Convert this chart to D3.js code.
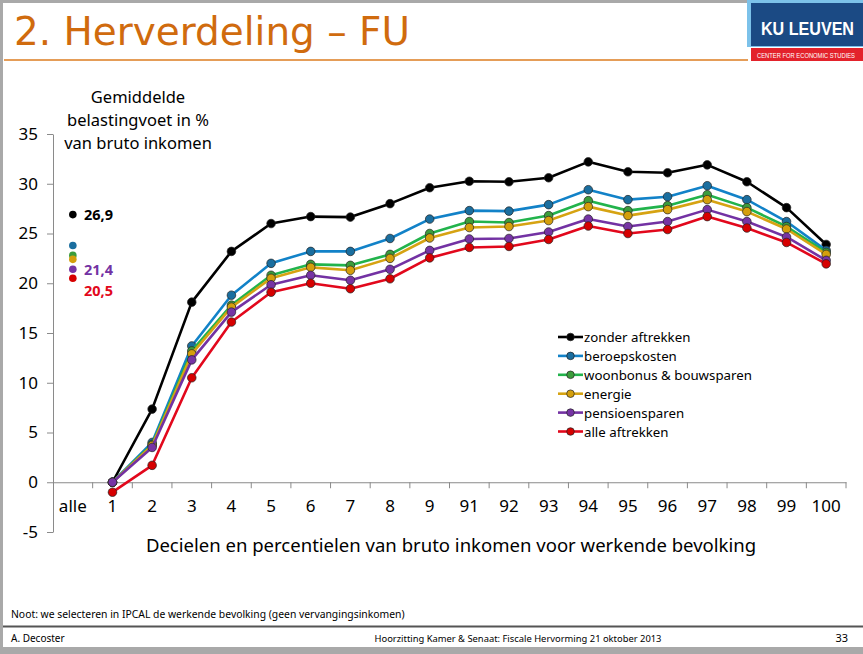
<!DOCTYPE html>
<html>
<head>
<meta charset="utf-8">
<script src="https://cdn.jsdelivr.net/npm/d3@7"></script>
<style>
  html, body { margin: 0; padding: 0; background: #fff; }
  svg { display: block; }
</style>
</head>
<body>
<div id="chart"></div>
<script>
// categorieën op de x-as
const categories = ["alle", "1", "2", "3", "4", "5", "6", "7", "8", "9",
  "91", "92", "93", "94", "95", "96", "97", "98", "99", "100"];
const deciles = categories.slice(1);

const seriesNames = ["zonder aftrekken", "beroepskosten", "woonbonus & bouwsparen",
  "energie", "pensioensparen", "alle aftrekken"];

// gemiddelde belastingvoet per deciel / percentiel
const zonderAftrekken = [0, 7.35, 18.1, 23.2, 26.0, 26.7, 26.65, 28.0, 29.6, 30.25, 30.2, 30.6, 32.2, 31.2, 31.1, 31.9, 30.2, 27.6, 23.9];
const beroepskosten = [0, 4.0, 13.7, 18.8, 22.0, 23.2, 23.2, 24.5, 26.45, 27.3, 27.25, 27.9, 29.4, 28.4, 28.7, 29.8, 28.4, 26.2, 23.3];
const woonbonus = [0, 3.8, 13.2, 17.8, 20.8, 21.9, 21.8, 22.9, 25.0, 26.2, 26.1, 26.8, 28.3, 27.3, 27.8, 28.9, 27.6, 25.7, 23.1];
const energie = [0, 3.7, 12.9, 17.6, 20.5, 21.6, 21.3, 22.5, 24.55, 25.6, 25.7, 26.3, 27.7, 26.8, 27.4, 28.4, 27.2, 25.45, 22.9];
const pensioensparen = [0, 3.5, 12.3, 17.1, 19.85, 20.8, 20.3, 21.4, 23.3, 24.45, 24.5, 25.15, 26.45, 25.7, 26.2, 27.4, 26.2, 24.65, 22.3];
const alleAftrekken = [-1.0, 1.7, 10.5, 16.1, 19.1, 20.0, 19.45, 20.45, 22.55, 23.6, 23.7, 24.4, 25.75, 25.0, 25.4, 26.7, 25.55, 24.1, 21.95];

// waarde voor de hele bevolking ("alle")
const alleValues = [26.9, 23.8, 22.8, 22.4, 21.4, 20.5];
// welke "alle"-waarden een label krijgen
const alleLabels = [
  { idx: 0, text: "26,9" },
  { idx: 4, text: "21,4" },
  { idx: 5, text: "20,5" }
];

const yTicks = [-5, 0, 5, 10, 15, 20, 25, 30, 35];

const lineColors = ["#000000", "#1282c8", "#22b34c", "#d6a312", "#7332a3", "#e2081c"];
const dotColors = ["#000000", "#1a6e9f", "#3c9c3c", "#d49f0c", "#7634a4", "#d60000"];

const seriesValues = [zonderAftrekken, beroepskosten, woonbonus, energie, pensioensparen, alleAftrekken];

const W = 863, H = 654;
const FONT = "'Noto Sans', 'Open Sans', sans-serif";

const svg = d3.select("#chart").append("svg")
  .attr("width", W)
  .attr("height", H);

// dia-achtergrond met grijze rand
svg.append("rect").attr("width", W).attr("height", H).attr("fill", "#a9a9a9");
svg.append("rect").attr("x", 3).attr("y", 3).attr("width", W - 3).attr("height", 644).attr("fill", "#fff");

// titel
const title = svg.append("text")
  .attr("x", 14).attr("y", 45)
  .attr("font-family", "'DejaVu Sans', Tahoma, sans-serif")
  .attr("font-size", 38)
  .attr("fill", "#d06b0e")
  .text("2. Herverdeling \u2013 FU");
fitWidth(title, 396);

svg.append("line")
  .attr("x1", 4).attr("x2", 748).attr("y1", 60).attr("y2", 60)
  .attr("stroke", "#dc7d20").attr("stroke-width", 1.5);

// logo
const logo = svg.append("g");
logo.append("rect").attr("x", 747).attr("y", 0).attr("width", 116).attr("height", 47).attr("fill", "#7cc2ea");
logo.append("rect").attr("x", 751).attr("y", 3).attr("width", 112).attr("height", 43).attr("fill", "#1b4a84");
logo.append("rect").attr("x", 751).attr("y", 48).attr("width", 112).attr("height", 13).attr("fill", "#e3222b");
logo.append("text")
  .attr("transform", "translate(761,35) scale(1,1.15)")
  .attr("font-family", "'Liberation Sans', Arial, sans-serif")
  .attr("font-weight", "bold").attr("font-size", 16)
  .attr("textLength", 93).attr("lengthAdjust", "spacingAndGlyphs")
  .attr("fill", "#fff").text("KU LEUVEN");
logo.append("text")
  .attr("x", 757).attr("y", 57.5)
  .attr("font-family", "'Liberation Sans', Arial, sans-serif")
  .attr("font-size", 6.3)
  .attr("textLength", 98).attr("lengthAdjust", "spacingAndGlyphs")
  .attr("fill", "#fff").text("CENTER FOR ECONOMIC STUDIES");

// schalen
const x = d3.scaleBand().domain(categories).range([53, 846]);
const y = d3.scaleLinear().domain([-5, 35]).range([532, 134]);
const cx = d => x(d) + x.bandwidth() / 2;

// y-as
const yAxis = svg.append("g")
  .attr("transform", "translate(53,0)")
  .call(d3.axisLeft(y).tickValues(yTicks).tickFormat(d => String(d))
    .tickSize(6).tickPadding(9).tickSizeOuter(0));
yAxis.select(".domain").attr("stroke", "#8a8a8a");
yAxis.selectAll(".tick line").attr("stroke", "#8a8a8a");
yAxis.selectAll("text")
  .attr("font-family", FONT).attr("font-size", 17).attr("fill", "#000");

// x-as op de nullijn
const xAxis = svg.append("g")
  .attr("transform", `translate(0,${y(0)})`)
  .call(d3.axisBottom(x).tickSize(0).tickPadding(18).tickSizeOuter(0));
xAxis.select(".domain").attr("stroke", "#8a8a8a");
xAxis.selectAll("text")
  .attr("font-family", FONT).attr("font-size", 17).attr("fill", "#000");
xAxis.selectAll(".tick-mark")
  .data(categories.slice(1).concat(["end"]))
  .enter().append("line")
  .attr("x1", d => d === "end" ? x.range()[1] : x(d))
  .attr("x2", d => d === "end" ? x.range()[1] : x(d))
  .attr("y1", 0).attr("y2", 6)
  .attr("stroke", "#8a8a8a");

// y-as titel
const yTitle = svg.append("text")
  .attr("font-family", FONT).attr("font-size", 16.5)
  .attr("text-anchor", "middle").attr("fill", "#000");
["Gemiddelde", "belastingvoet in %", "van bruto inkomen"].forEach((t, i) => {
  yTitle.append("tspan").attr("x", 138).attr("y", 103 + i * 23).text(t);
});

// x-as titel
const xTitle = svg.append("text")
  .attr("x", 451).attr("y", 552)
  .attr("text-anchor", "middle")
  .attr("font-family", FONT).attr("font-size", 18.5)
  .attr("fill", "#000")
  .text("Decielen en percentielen van bruto inkomen voor werkende bevolking");
fitWidth(xTitle, 611);

// lijnen + markers
const line = d3.line()
  .x((d, i) => cx(deciles[i]))
  .y(d => y(d));

seriesValues.forEach((vals, s) => {
  const g = svg.append("g");
  g.append("path")
    .datum(vals)
    .attr("d", line)
    .attr("fill", "none")
    .attr("stroke", lineColors[s])
    .attr("stroke-width", 2.6)
    .attr("stroke-linejoin", "round");
  g.selectAll("circle")
    .data(vals)
    .enter().append("circle")
    .attr("cx", (d, i) => cx(deciles[i]))
    .attr("cy", d => y(d))
    .attr("r", 4.3)
    .attr("fill", dotColors[s])
    .attr("stroke", "#222")
    .attr("stroke-width", 0.7);
});

// punten voor "alle"
svg.append("g").selectAll("circle")
  .data(alleValues)
  .enter().append("circle")
  .attr("cx", cx("alle"))
  .attr("cy", d => y(d))
  .attr("r", 3.8)
  .attr("fill", (d, i) => dotColors[i]);

svg.append("g").selectAll("text")
  .data(alleLabels)
  .enter().append("text")
  .attr("x", 84)
  .attr("y", (d, i) => i === 2 ? y(alleValues[d.idx]) + 18 : y(alleValues[d.idx]) + 5.5)
  .attr("font-family", FONT).attr("font-size", 14.5).attr("font-weight", "bold")
  .attr("fill", d => d.idx === 0 ? "#000" : lineColors[d.idx])
  .text(d => d.text);

// legenda
const legend = svg.append("g").attr("transform", "translate(558,337)");
const legItems = legend.selectAll("g")
  .data(seriesNames)
  .enter().append("g")
  .attr("transform", (d, i) => `translate(0,${i * 18.9})`);
legItems.append("line")
  .attr("x1", 0).attr("x2", 25).attr("y1", 0).attr("y2", 0)
  .attr("stroke", (d, i) => lineColors[i]).attr("stroke-width", 2.6);
legItems.append("circle")
  .attr("cx", 12.5).attr("cy", 0).attr("r", 3.8)
  .attr("fill", (d, i) => dotColors[i])
  .attr("stroke", "#222").attr("stroke-width", 0.7);
legItems.append("text")
  .attr("x", 26).attr("y", 5)
  .attr("font-family", FONT).attr("font-size", 14)
  .attr("fill", "#000")
  .text(d => d);
fitWidth(legItems.filter((d, i) => i === 2).select("text"), 168);
legItems.selectAll("text").attr("font-size", legItems.filter((d, i) => i === 2).select("text").attr("font-size"));

// voetnoot en voettekst
svg.append("text")
  .attr("x", 11).attr("y", 618)
  .attr("font-family", FONT).attr("font-size", 10)
  .attr("fill", "#000")
  .text("Noot:  we selecteren in IPCAL de werkende bevolking (geen vervangingsinkomen)")
  .call(s => fitWidth(s, 394));

svg.append("line")
  .attr("x1", 3).attr("x2", W).attr("y1", 626.5).attr("y2", 626.5)
  .attr("stroke", "#555").attr("stroke-width", 2);

svg.append("text")
  .attr("x", 11).attr("y", 642)
  .attr("font-family", FONT).attr("font-size", 10)
  .attr("fill", "#000").text("A. Decoster");
svg.append("text")
  .attr("x", 518).attr("y", 642).attr("text-anchor", "middle")
  .attr("font-family", FONT).attr("font-size", 10)
  .attr("fill", "#000").text("Hoorzitting Kamer & Senaat: Fiscale Hervorming 21 oktober 2013")
  .call(s => fitWidth(s, 287));
svg.append("text")
  .attr("x", 848).attr("y", 642).attr("text-anchor", "end")
  .attr("font-family", FONT).attr("font-size", 11)
  .attr("fill", "#000").text("33");

// lettergrootte aanpassen zodat de tekst de gewenste breedte krijgt
function fitWidth(sel, target) {
  const node = sel.node();
  const len = node.getComputedTextLength();
  const fs = parseFloat(sel.attr("font-size"));
  if (len > 0) sel.attr("font-size", (fs * target / len).toFixed(2));
}
</script>
</body>
</html>
